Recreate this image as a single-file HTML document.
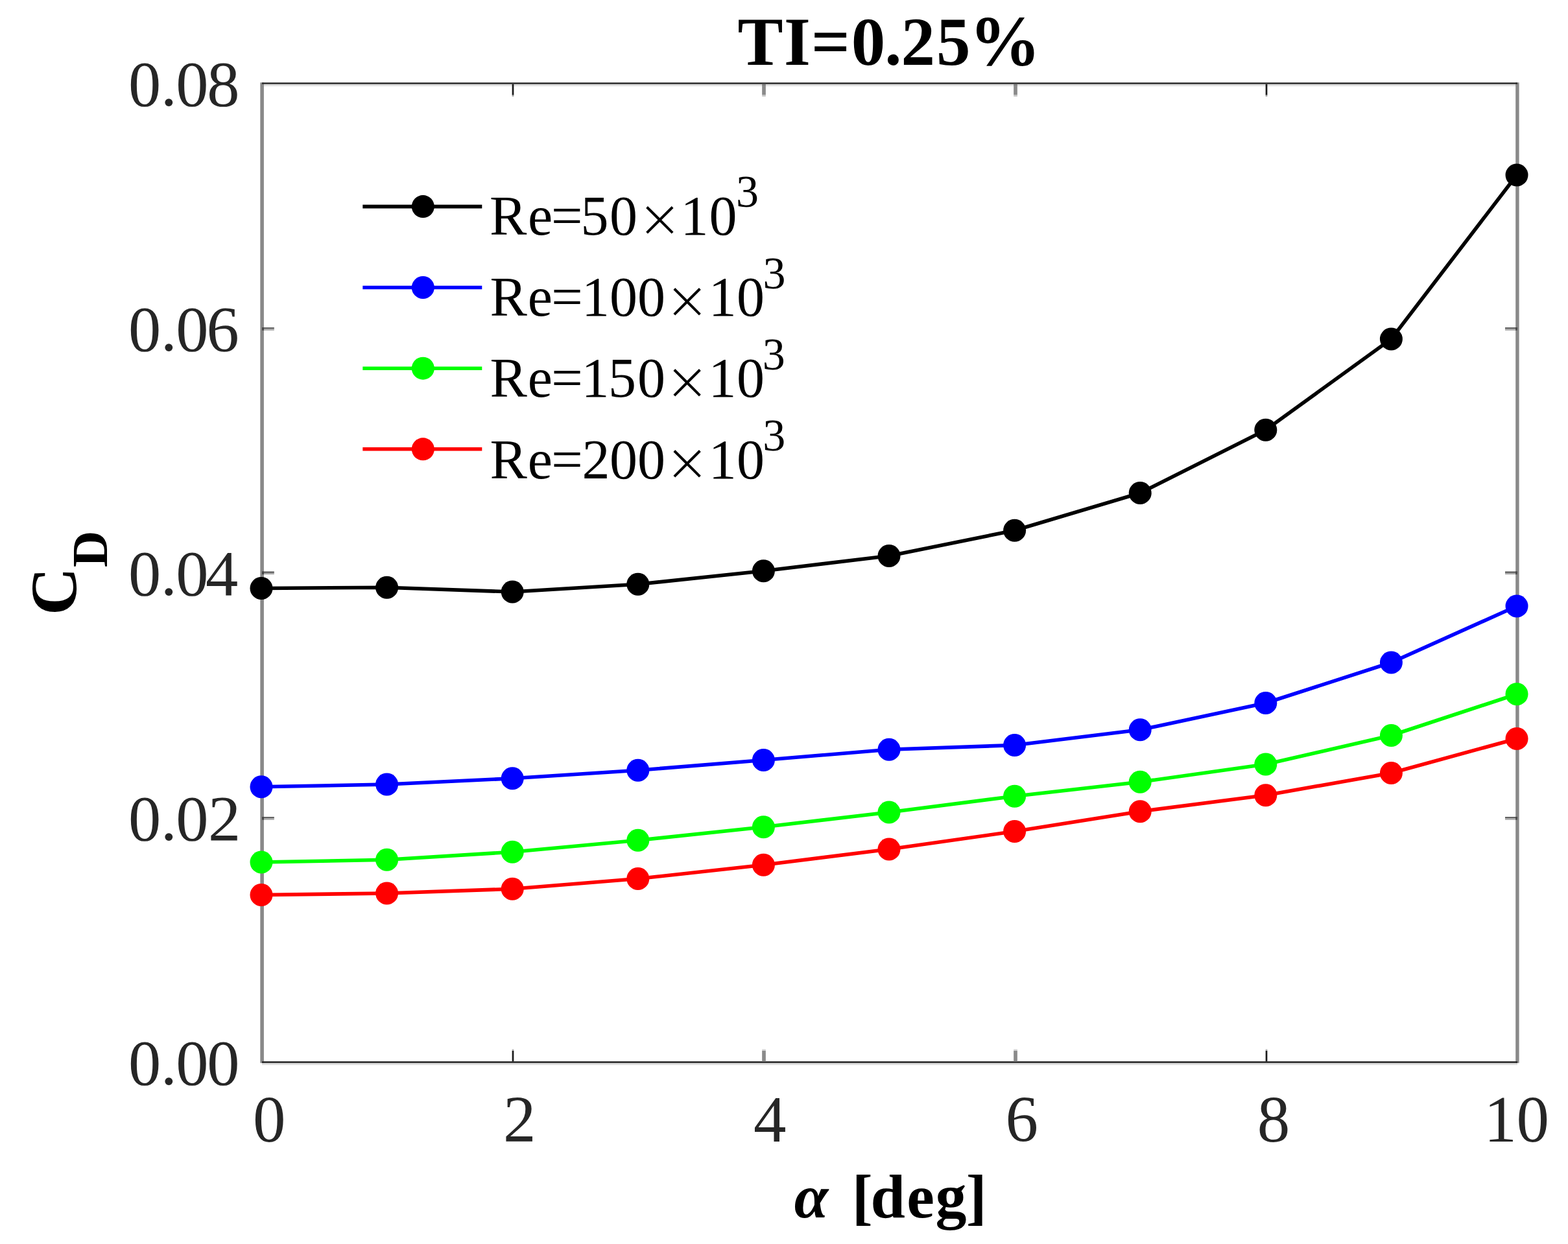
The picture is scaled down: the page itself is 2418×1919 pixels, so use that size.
<!DOCTYPE html><html><head><meta charset="utf-8"><title>CD vs alpha, TI=0.25%</title>
<style>html,body{margin:0;padding:0;background:#fff;overflow:hidden}svg{display:block}text{font-family:"Liberation Serif","Times New Roman",serif}</style></head><body>
<svg width="2418" height="1919" viewBox="0 0 2418 1919">
<rect width="2418" height="1919" fill="#fff"/>
<g shape-rendering="crispEdges">
<rect x="404" y="129.8" width="1936" height="3" fill="#e0e0e0"/>
<rect x="404" y="1639.8" width="1936" height="3" fill="#e0e0e0"/>
</g>
<rect x="401.3" y="127.3" width="5.6" height="1512.5" fill="#898989"/>
<rect x="2337.2" y="127.3" width="5.4" height="1512.5" fill="#898989"/>
<rect x="404" y="127.3" width="1936" height="2.5" fill="#2a2a2a"/>
<rect x="404" y="1637.2" width="1936" height="2.6" fill="#262626"/>
<rect x="789.65" y="1618.6" width="2.7" height="2.6" fill="#b0b0b0"/>
<rect x="789.65" y="1621" width="2.7" height="16.5" fill="#1a1a1a"/>
<rect x="789.65" y="129.8" width="2.7" height="17" fill="#1a1a1a"/>
<rect x="789.65" y="146.6" width="2.7" height="2.4" fill="#a8a8a8"/>
<rect x="1175.15" y="1618.6" width="5.7" height="2.6" fill="#d2d2d2"/>
<rect x="1175.15" y="1621" width="5.7" height="16.5" fill="#8a8a8a"/>
<rect x="1175.15" y="129.8" width="5.7" height="3" fill="#7c7c7c"/>
<rect x="1175.15" y="132.8" width="5.7" height="13.8" fill="#8a8a8a"/>
<rect x="1175.15" y="146.6" width="5.7" height="2.4" fill="#c8c8c8"/>
<rect x="1563.15" y="1618.6" width="5.7" height="2.6" fill="#d2d2d2"/>
<rect x="1563.15" y="1621" width="5.7" height="16.5" fill="#8a8a8a"/>
<rect x="1563.15" y="129.8" width="5.7" height="3" fill="#7c7c7c"/>
<rect x="1563.15" y="132.8" width="5.7" height="13.8" fill="#8a8a8a"/>
<rect x="1563.15" y="146.6" width="5.7" height="2.4" fill="#c8c8c8"/>
<rect x="1951.65" y="1618.6" width="2.7" height="2.6" fill="#b0b0b0"/>
<rect x="1951.65" y="1621" width="2.7" height="16.5" fill="#1a1a1a"/>
<rect x="1951.65" y="129.8" width="2.7" height="17" fill="#1a1a1a"/>
<rect x="1951.65" y="146.6" width="2.7" height="2.4" fill="#a8a8a8"/>
<rect x="404.1" y="505.1" width="18.7" height="2.4" fill="#5a5a5a"/>
<rect x="404.1" y="507.5" width="18.7" height="2.3" fill="#aaaaaa"/>
<rect x="404.1" y="505.1" width="2.8" height="4.7" fill="#454545"/>
<rect x="2321" y="505.1" width="18.7" height="2.4" fill="#5a5a5a"/>
<rect x="2321" y="507.5" width="18.7" height="2.3" fill="#aaaaaa"/>
<rect x="2337.2" y="505.1" width="2.5" height="4.7" fill="#454545"/>
<rect x="404.1" y="881.5" width="18.7" height="2.4" fill="#5a5a5a"/>
<rect x="404.1" y="883.9" width="18.7" height="2.3" fill="#aaaaaa"/>
<rect x="404.1" y="881.5" width="2.8" height="4.7" fill="#454545"/>
<rect x="2321" y="881.5" width="18.7" height="2.4" fill="#5a5a5a"/>
<rect x="2321" y="883.9" width="18.7" height="2.3" fill="#aaaaaa"/>
<rect x="2337.2" y="881.5" width="2.5" height="4.7" fill="#454545"/>
<rect x="404.1" y="1260.1" width="18.7" height="2.4" fill="#5a5a5a"/>
<rect x="404.1" y="1262.5" width="18.7" height="2.3" fill="#aaaaaa"/>
<rect x="404.1" y="1260.1" width="2.8" height="4.7" fill="#454545"/>
<rect x="2321" y="1260.1" width="18.7" height="2.4" fill="#5a5a5a"/>
<rect x="2321" y="1262.5" width="18.7" height="2.3" fill="#aaaaaa"/>
<rect x="2337.2" y="1260.1" width="2.5" height="4.7" fill="#454545"/>
<polyline points="403.00,907.50 596.60,906.25 790.20,913.00 983.80,901.25 1177.40,880.75 1371.00,857.50 1564.60,818.25 1758.20,760.50 1951.80,663.25 2145.40,523.00 2339.00,270.00" fill="none" stroke="#000000" stroke-width="5.6" stroke-linejoin="round"/>
<circle cx="403.00" cy="907.50" r="17.5" fill="#000000"/>
<circle cx="596.60" cy="906.25" r="17.5" fill="#000000"/>
<circle cx="790.20" cy="913.00" r="17.5" fill="#000000"/>
<circle cx="983.80" cy="901.25" r="17.5" fill="#000000"/>
<circle cx="1177.40" cy="880.75" r="17.5" fill="#000000"/>
<circle cx="1371.00" cy="857.50" r="17.5" fill="#000000"/>
<circle cx="1564.60" cy="818.25" r="17.5" fill="#000000"/>
<circle cx="1758.20" cy="760.50" r="17.5" fill="#000000"/>
<circle cx="1951.80" cy="663.25" r="17.5" fill="#000000"/>
<circle cx="2145.40" cy="523.00" r="17.5" fill="#000000"/>
<circle cx="2339.00" cy="270.00" r="17.5" fill="#000000"/>
<polyline points="403.00,1213.75 596.60,1210.00 790.20,1200.75 983.80,1188.25 1177.40,1172.50 1371.00,1156.25 1564.60,1149.50 1758.20,1125.75 1951.80,1084.50 2145.40,1022.00 2339.00,935.00" fill="none" stroke="#0000ff" stroke-width="5.6" stroke-linejoin="round"/>
<circle cx="403.00" cy="1213.75" r="17.5" fill="#0000ff"/>
<circle cx="596.60" cy="1210.00" r="17.5" fill="#0000ff"/>
<circle cx="790.20" cy="1200.75" r="17.5" fill="#0000ff"/>
<circle cx="983.80" cy="1188.25" r="17.5" fill="#0000ff"/>
<circle cx="1177.40" cy="1172.50" r="17.5" fill="#0000ff"/>
<circle cx="1371.00" cy="1156.25" r="17.5" fill="#0000ff"/>
<circle cx="1564.60" cy="1149.50" r="17.5" fill="#0000ff"/>
<circle cx="1758.20" cy="1125.75" r="17.5" fill="#0000ff"/>
<circle cx="1951.80" cy="1084.50" r="17.5" fill="#0000ff"/>
<circle cx="2145.40" cy="1022.00" r="17.5" fill="#0000ff"/>
<circle cx="2339.00" cy="935.00" r="17.5" fill="#0000ff"/>
<polyline points="403.00,1330.00 596.60,1326.25 790.20,1314.25 983.80,1296.25 1177.40,1275.75 1371.00,1253.00 1564.60,1228.25 1758.20,1206.25 1951.80,1179.00 2145.40,1134.50 2339.00,1070.75" fill="none" stroke="#00ff00" stroke-width="5.6" stroke-linejoin="round"/>
<circle cx="403.00" cy="1330.00" r="17.5" fill="#00ff00"/>
<circle cx="596.60" cy="1326.25" r="17.5" fill="#00ff00"/>
<circle cx="790.20" cy="1314.25" r="17.5" fill="#00ff00"/>
<circle cx="983.80" cy="1296.25" r="17.5" fill="#00ff00"/>
<circle cx="1177.40" cy="1275.75" r="17.5" fill="#00ff00"/>
<circle cx="1371.00" cy="1253.00" r="17.5" fill="#00ff00"/>
<circle cx="1564.60" cy="1228.25" r="17.5" fill="#00ff00"/>
<circle cx="1758.20" cy="1206.25" r="17.5" fill="#00ff00"/>
<circle cx="1951.80" cy="1179.00" r="17.5" fill="#00ff00"/>
<circle cx="2145.40" cy="1134.50" r="17.5" fill="#00ff00"/>
<circle cx="2339.00" cy="1070.75" r="17.5" fill="#00ff00"/>
<polyline points="403.00,1380.50 596.60,1378.00 790.20,1371.25 983.80,1355.50 1177.40,1334.25 1371.00,1310.00 1564.60,1282.50 1758.20,1251.75 1951.80,1226.75 2145.40,1192.50 2339.00,1139.50" fill="none" stroke="#ff0000" stroke-width="5.6" stroke-linejoin="round"/>
<circle cx="403.00" cy="1380.50" r="17.5" fill="#ff0000"/>
<circle cx="596.60" cy="1378.00" r="17.5" fill="#ff0000"/>
<circle cx="790.20" cy="1371.25" r="17.5" fill="#ff0000"/>
<circle cx="983.80" cy="1355.50" r="17.5" fill="#ff0000"/>
<circle cx="1177.40" cy="1334.25" r="17.5" fill="#ff0000"/>
<circle cx="1371.00" cy="1310.00" r="17.5" fill="#ff0000"/>
<circle cx="1564.60" cy="1282.50" r="17.5" fill="#ff0000"/>
<circle cx="1758.20" cy="1251.75" r="17.5" fill="#ff0000"/>
<circle cx="1951.80" cy="1226.75" r="17.5" fill="#ff0000"/>
<circle cx="2145.40" cy="1192.50" r="17.5" fill="#ff0000"/>
<circle cx="2339.00" cy="1139.50" r="17.5" fill="#ff0000"/>
<line x1="559.3" y1="318.6" x2="743.3" y2="318.6" stroke="#000000" stroke-width="5.6"/>
<circle cx="652.3" cy="318.6" r="17.5" fill="#000000"/>
<text y="361.6" font-size="86" fill="#000"><tspan x="755.0 813.9 850.1 895.6 940.0">Re=50</tspan><tspan x="983.1" y="365.1" font-size="82" style="font-family:'DejaVu Sans',sans-serif;font-weight:200">×</tspan><tspan x="1049.5 1093.5" y="361.6">10</tspan><tspan x="1135.0" y="319.3" font-size="70">3</tspan></text>
<line x1="559.3" y1="443.5" x2="743.3" y2="443.5" stroke="#0000ff" stroke-width="5.6"/>
<circle cx="652.3" cy="443.5" r="17.5" fill="#0000ff"/>
<text y="487.2" font-size="86" fill="#000"><tspan x="755.4 813.8 850.2 897.1 940.0 982.9">Re=100</tspan><tspan x="1025.2" y="490.7" font-size="82" style="font-family:'DejaVu Sans',sans-serif;font-weight:200">×</tspan><tspan x="1092.8 1135.9" y="487.2">10</tspan><tspan x="1176.4" y="444.9" font-size="70">3</tspan></text>
<line x1="559.3" y1="568.2" x2="743.3" y2="568.2" stroke="#00ff00" stroke-width="5.6"/>
<circle cx="652.3" cy="568.2" r="17.5" fill="#00ff00"/>
<text y="612.4" font-size="86" fill="#000"><tspan x="755.4 813.8 850.2 896.6 938.0 982.9">Re=150</tspan><tspan x="1025.2" y="615.9" font-size="82" style="font-family:'DejaVu Sans',sans-serif;font-weight:200">×</tspan><tspan x="1092.5 1135.9" y="612.4">10</tspan><tspan x="1175.8" y="570.1" font-size="70">3</tspan></text>
<line x1="559.3" y1="692.8" x2="743.3" y2="692.8" stroke="#ff0000" stroke-width="5.6"/>
<circle cx="652.3" cy="692.8" r="17.5" fill="#ff0000"/>
<text y="737.6" font-size="86" fill="#000"><tspan x="755.4 813.8 850.2 897.5 940.0 982.9">Re=200</tspan><tspan x="1025.2" y="741.1" font-size="82" style="font-family:'DejaVu Sans',sans-serif;font-weight:200">×</tspan><tspan x="1092.8 1135.9" y="737.6">10</tspan><tspan x="1176.2" y="695.3" font-size="70">3</tspan></text>
<text x="198.0 247.8 271.3 319.3" y="163.3" font-size="100.5" fill="#262626">0.08</text>
<text x="198.0 247.8 271.3 318.6" y="540.8" font-size="100.5" fill="#262626">0.06</text>
<text x="198.0 247.8 271.3 317.1" y="918.3" font-size="100.5" fill="#262626">0.04</text>
<text x="198.0 247.8 271.3 321.1" y="1295.8" font-size="100.5" fill="#262626">0.02</text>
<text x="198.0 247.8 271.3 319.3" y="1673.3" font-size="100.5" fill="#262626">0.00</text>
<text x="389.9" y="1760.8" font-size="101" fill="#262626">0</text>
<text x="776.0" y="1760.8" font-size="101" fill="#262626">2</text>
<text x="1161.9" y="1760.8" font-size="101" fill="#262626">4</text>
<text x="1550.6" y="1760.8" font-size="101" fill="#262626">6</text>
<text x="1938.8" y="1760.8" font-size="101" fill="#262626">8</text>
<text x="2288.6 2338.4" y="1760.8" font-size="101" fill="#262626">10</text>
<text y="99.5" font-size="105" font-weight="bold" fill="#000"><tspan x="1137.6 1209.1 1250.9 1312.7 1364.3 1389.5 1444.0">TI=0.25</tspan><tspan x="1494.8" y="101" font-size="110">%</tspan></text>
<text y="1877.7" font-size="96" font-weight="bold" fill="#000"><tspan x="1224.7" font-size="95" font-style="italic">α</tspan> <tspan x="1313.8 1342.6 1398.2 1442.5 1489.8">[deg]</tspan></text>
<text transform="translate(117.5,948.9) rotate(-90)" font-size="102" font-weight="bold" fill="#000"><tspan x="0" y="0">C</tspan><tspan x="73.9" y="47.1" font-size="78">D</tspan></text>
</svg></body></html>
